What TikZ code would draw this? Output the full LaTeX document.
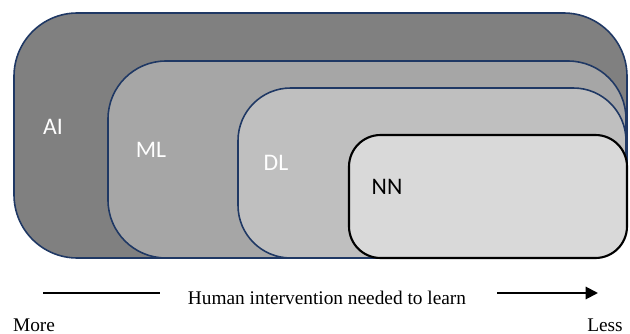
\documentclass[tikz,border=0pt]{standalone}
\usepackage{fontspec}
\setmainfont{Liberation Serif}
\newfontfamily\boxfont{Carlito}
\usetikzlibrary{arrows.meta,positioning}

\definecolor{framecol}{HTML}{1F3864}
\definecolor{aicol}{HTML}{808080}
\definecolor{mlcol}{HTML}{A6A6A6}
\definecolor{dlcol}{HTML}{BFBFBF}
\definecolor{nncol}{HTML}{D9D9D9}

\begin{document}
\begin{tikzpicture}[
    x=0.2mm, y=-0.2mm,
    field/.style={draw=framecol, line width=0.9pt},
    tag/.style={font=\boxfont\fontsize{13.5}{15}\selectfont, text=white},
    axis/.style={font=\fontsize{11}{13}\selectfont},
]
\useasboundingbox (0,0) rectangle (630,334);

% Nested fields
\draw[field, fill=aicol, rounded corners=36] (14,13) rectangle (627,258);
\draw[field, fill=mlcol, rounded corners=33] (108,61) rectangle (626,258);
\draw[field, fill=dlcol, rounded corners=30] (238,88) rectangle (626,258);
\draw[draw=black, line width=1.2pt, fill=nncol, rounded corners=18] (349,135) rectangle (627,258);

% Labels
\node[tag] (ai) at (53,127) {AI};
\node[tag] (ml) at (151,150) {ML};
\node[tag] (dl) at (276,163) {DL};
\node[tag, text=black] (nn) at (387,187) {NN};

% Scale underneath
\node[axis] (human) at (327,298) {Human intervention needed to learn};
\node[axis] (more) at (34,325) {More};
\node[axis] (less) at (605,325) {Less};
\coordinate (lstart) at (43,293);
\coordinate (lend) at (160,293);
\coordinate (rstart) at (497,293);
\coordinate (rend) at (598,293);
\draw[line width=1.1pt] (lstart) -- (lend);
\draw[line width=1.1pt, -{Triangle[length=7pt,width=7pt]}] (rstart) -- (rend);

\end{tikzpicture}
\end{document}
